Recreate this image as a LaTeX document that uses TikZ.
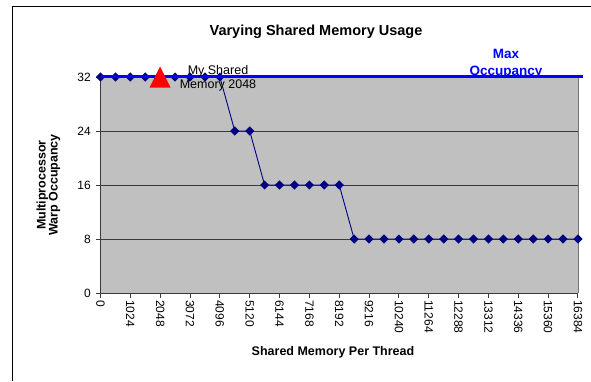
\documentclass[tikz,border=0pt]{standalone}
\usepackage{fontspec}
\setmainfont{Liberation Sans}
\usetikzlibrary{calc}
\definecolor{seriesnavy}{HTML}{000080}
\definecolor{plotgray}{HTML}{C0C0C0}
\definecolor{gridgray}{HTML}{3A3A3A}
\definecolor{maxblue}{HTML}{0000FF}
\begin{document}
\begin{tikzpicture}[x=1pt,y=-1pt,
  ticklabel/.style={font=\fontsize{12}{14}\selectfont, inner sep=0pt},
  axistitle/.style={font=\fontsize{12.5}{12.5}\selectfont\bfseries, inner sep=0pt, align=center},
  gridline/.style={gridgray, line width=1pt},
  series/.style={seriesnavy, line width=0.9pt}]
\useasboundingbox (0,0) rectangle (591,381);
% chart frame (runs off the right and bottom)
\draw[line width=1pt] (12,381) -- (12,6) -- (591,6);
% plot area
\fill[plotgray] (100.5,77) rectangle (578,293);
\draw[gray!90!black, line width=1pt] (578,77) -- (578,293);
\foreach \yv in {131,185,239}
  \draw[gridline] (100.5,\yv) -- (578,\yv);
\draw[gridline] (100.5,77) -- (578,77);
\draw[gridline] (100.5,77) -- (100.5,293) -- (578,293);
% y ticks and labels
\foreach \k/\lab in {0/0,1/8,2/16,3/24,4/32} {
  \draw[gridline] (96,{293-54*\k}) -- (100.5,{293-54*\k});
  \node[ticklabel, anchor=east] (yl\k) at (91,{293-54*\k}) {\lab};
}
% x ticks and labels
\foreach \k/\val in {0/0,1/1024,2/2048,3/3072,4/4096,5/5120,6/6144,7/7168,8/8192,
                     9/9216,10/10240,11/11264,12/12288,13/13312,14/14336,15/15360,16/16384} {
  \draw[gridline] ({100.5+29.84*\k},293) -- ({100.5+29.84*\k},297.5);
  \node[ticklabel, anchor=west, rotate=-90] (xl\k) at ({100.5+29.84*\k},300) {\val};
}
% data series
\foreach \i/\v in {0/32,1/32,2/32,3/32,4/32,5/32,6/32,7/32,8/32,
                   9/24,10/24,
                   11/16,12/16,13/16,14/16,15/16,16/16,
                   17/8,18/8,19/8,20/8,21/8,22/8,23/8,24/8,25/8,26/8,27/8,28/8,29/8,30/8,31/8,32/8}
  \coordinate (p\i) at ({100.5+14.92*\i},{293-6.75*\v});
\draw[series] (p0) \foreach \i in {1,...,32} { -- (p\i) };
\foreach \i in {0,...,32}
  \fill[seriesnavy] ($(p\i)+(-4.6,0)$) -- ($(p\i)+(0,-4.6)$) -- ($(p\i)+(4.6,0)$) -- ($(p\i)+(0,4.6)$) -- cycle;
% max occupancy label sits under its line
\node[font=\fontsize{13.5}{17}\selectfont\bfseries, text=maxblue, align=center, inner sep=0pt] (maxlab) at (506,64) {Max\\Occupancy};
% max occupancy line
\coordinate (maxL) at (100.5,76.5);
\coordinate (maxR) at (583,76.5);
\draw[maxblue, line width=3pt] (maxL) -- (maxR);
% my shared memory marker
\fill[red] (149.5,87.5) -- (170.5,87.5) -- (160,66.5) -- cycle;
% texts
\node[font=\fontsize{14.5}{14.5}\selectfont\bfseries, inner sep=0pt] (title) at (316,32) {Varying Shared Memory Usage};
\node[axistitle] (xtitle) at (333,352) {Shared Memory Per Thread};
\node[axistitle, rotate=90] (ytitle) at (48.5,185) {Multiprocessor\\[-0.5pt]Warp Occupancy};
\node[font=\fontsize{12.5}{14}\selectfont, align=center, inner sep=0pt] (mylab) at (218,78) {My Shared\\Memory 2048};
\end{tikzpicture}
\end{document}
